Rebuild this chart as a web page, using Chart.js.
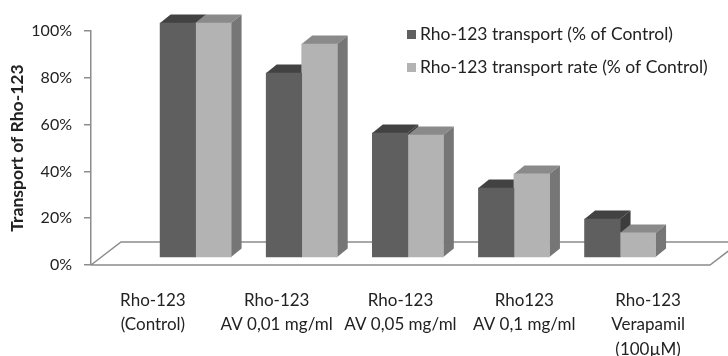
<!DOCTYPE html>
<html>
<head>
<meta charset="utf-8">
<script src="https://cdn.jsdelivr.net/npm/chart.js@4/dist/chart.umd.min.js"></script>
<style>
  html, body { margin: 0; padding: 0; background: #fff; }
</style>
</head>
<body>
<canvas id="rhoChart" width="728" height="356"></canvas>
<script>
// values (% of control)
const categories = [
  ['Rho-123', '(Control)'],
  ['Rho-123', 'AV 0,01 mg/ml'],
  ['Rho-123', 'AV 0,05 mg/ml'],
  ['Rho123', 'AV 0,1 mg/ml'],
  ['Rho-123', 'Verapamil', '(100µM)']
];
const seriesNames = ['Rho-123 transport (% of Control)', 'Rho-123 transport rate (% of Control)'];
const transport = [100, 78.6, 53, 29.5, 16.2];
const transportRate = [100, 91, 52.1, 35.5, 10.3];
const yTicks = [0, 20, 40, 60, 80, 100];

// pseudo 3d look
const DX = 10.5, DY = -8.5;          // bar depth
const FLOOR_DX = 30, FLOOR_DY = -23; // floor depth
const SHIFT = 0.069;                 // bars sit a bit back on the floor
const LIFT = 0.0342;                 // ...and a bit up

const FONT = 'Lato';
const TEXT = '#222';
const LINE = '#8c8c8c';

function poly(ctx, pts, color) {
  ctx.fillStyle = color;
  ctx.beginPath();
  pts.forEach((p, i) => (i ? ctx.lineTo(p[0], p[1]) : ctx.moveTo(p[0], p[1])));
  ctx.closePath();
  ctx.fill();
}

const bar3d = {
  id: 'bar3d',
  // floor + top/side faces go under the front faces that chart.js draws
  beforeDatasetsDraw(chart) {
    const { ctx, chartArea: a } = chart;
    ctx.save();
    ctx.strokeStyle = LINE;
    ctx.lineWidth = 1.5;
    ctx.beginPath();
    ctx.moveTo(a.left, a.bottom);
    ctx.lineTo(a.right, a.bottom);
    ctx.lineTo(a.right + FLOOR_DX, a.bottom + FLOOR_DY);
    ctx.moveTo(a.left, a.bottom);
    ctx.lineTo(a.left + FLOOR_DX, a.bottom + FLOOR_DY);
    ctx.lineTo(chart.width, a.bottom + FLOOR_DY);
    ctx.stroke();

    chart.data.datasets.forEach((ds, di) => {
      chart.getDatasetMeta(di).data.forEach(bar => {
        const { x, y, base, width } = bar.getProps(['x', 'y', 'base', 'width'], true);
        const l = x - width / 2, r = x + width / 2;
        poly(ctx, [[l, y], [l + DX, y + DY], [r + DX, y + DY], [r, y]], ds.topColor);
        poly(ctx, [[r, y], [r + DX, y + DY], [r + DX, base + DY], [r, base]], ds.sideColor);
      });
    });
    ctx.restore();
  },
  afterDraw(chart) {
    // legend, top right
    const ctx = chart.ctx;
    ctx.save();
    ctx.font = '17.5px ' + FONT;
    ctx.textBaseline = 'middle';
    chart.data.datasets.forEach((ds, i) => {
      const y = 34.5 + i * 33;
      ctx.fillStyle = ds.backgroundColor;
      ctx.fillRect(407, y - 4.5, 9, 9);
      ctx.fillStyle = TEXT;
      ctx.fillText(ds.label, 420, y);
    });
    ctx.restore();
  }
};

new Chart(document.getElementById('rhoChart'), {
  type: 'bar',
  data: {
    labels: categories,
    datasets: [{
      label: seriesNames[0],
      data: transport.map((v, i) => ({ x: i, y: v })),
      backgroundColor: '#5f5f5f',
      topColor: '#424242',
      sideColor: '#3d3d3d',
      xAxisID: 'xb',
      yAxisID: 'yb'
    }, {
      label: seriesNames[1],
      data: transportRate.map((v, i) => ({ x: i, y: v })),
      backgroundColor: '#b3b3b3',
      topColor: '#8a8a8a',
      sideColor: '#767676',
      xAxisID: 'xb',
      yAxisID: 'yb'
    }]
  },
  plugins: [bar3d],
  options: {
    responsive: false,
    animation: false,
    clip: false,
    barThickness: 35.5,
    borderWidth: 0,
    layout: { padding: { top: 31, right: 18, left: 0, bottom: 0 } },
    plugins: { legend: { display: false }, tooltip: { enabled: false } },
    scales: {
      x: {
        type: 'category',
        position: 'bottom',
        min: 0,
        max: categories.length - 1,
        offset: true,
        grid: { display: false },
        border: { display: false },
        ticks: {
          color: TEXT,
          font: { family: FONT, size: 17, lineHeight: 1.45 },
          padding: 15,
          maxRotation: 0,
          autoSkip: false
        },
        afterFit: s => { s.height = 91; }
      },
      xb: {
        type: 'linear',
        display: false,
        min: -0.5 - SHIFT,
        max: categories.length - 0.5 - SHIFT
      },
      y: {
        min: yTicks[0],
        max: yTicks[yTicks.length - 1],
        afterBuildTicks: s => { s.ticks = yTicks.map(v => ({ value: v })); },
        grid: { drawOnChartArea: false, tickLength: 7, color: LINE, lineWidth: 1.5 },
        border: { color: LINE, width: 1.5 },
        ticks: {
          color: TEXT,
          font: { family: FONT, size: 16 },
          padding: 12,
          callback: v => v + '%'
        },
        title: {
          display: true,
          text: 'Transport of Rho-123',
          color: TEXT,
          font: { family: FONT, size: 17.5, weight: 'bold' },
          padding: { top: 7, bottom: 0 }
        },
        afterFit: s => { s.width = 91; }
      },
      yb: {
        type: 'linear',
        display: false,
        min: -LIFT * 100,
        max: 100 - LIFT * 100
      }
    }
  }
});
</script>
</body>
</html>
